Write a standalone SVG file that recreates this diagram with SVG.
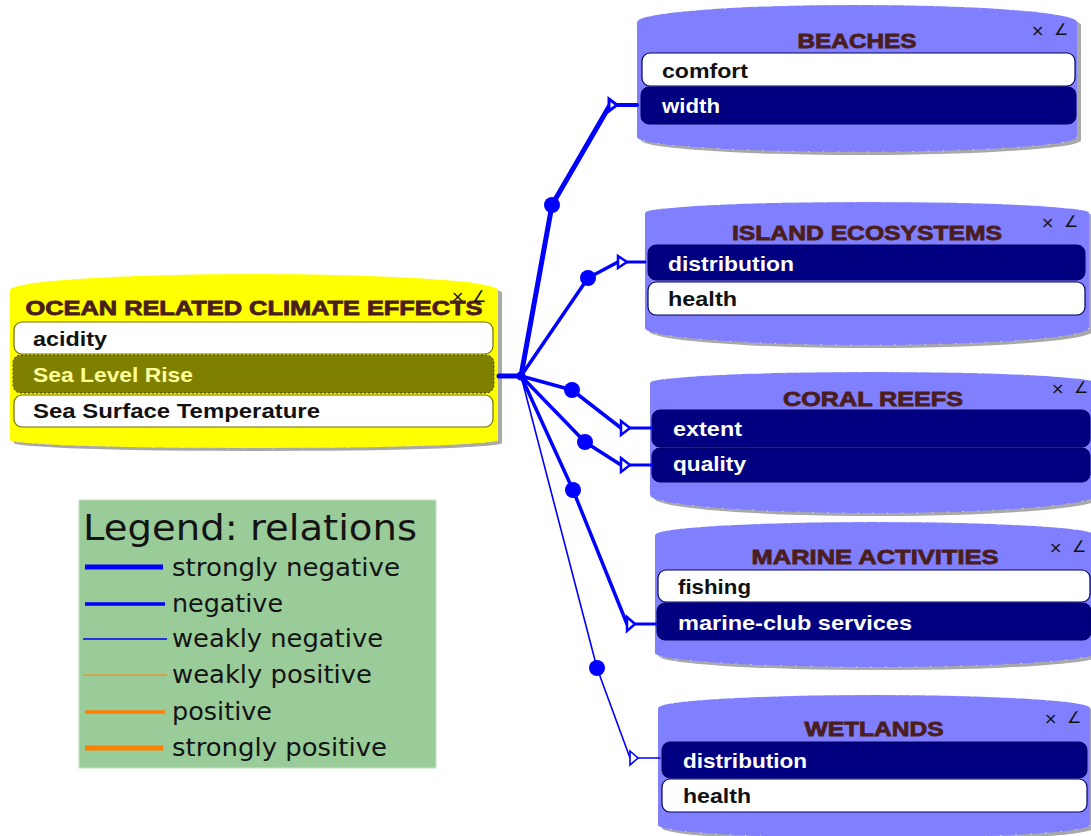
<svg xmlns="http://www.w3.org/2000/svg" width="1091" height="836" viewBox="0 0 1091 836">
<style>
.shadow{fill:#a8a8a8}
.blue{fill:#8080ff}
.yel{fill:#ffff00}
.edge{fill:none;stroke:#ffffff;stroke-width:1;stroke-dasharray:1 14}
.title{font-family:"Liberation Sans",Arial,sans-serif;font-weight:bold;font-size:20px;fill:#4b1e1e;stroke:#4b1e1e;stroke-width:0.8;text-anchor:middle}
.fw{fill:#ffffff;stroke:#000060;stroke-width:1.2}
.fn{fill:#000080;stroke:#000060;stroke-width:1}
.ft{font-family:"Liberation Sans",Arial,sans-serif;font-weight:bold;font-size:21px}
.tw{fill:#111111}
.tn{fill:#ffffff}
.ic{font-family:"DejaVu Sans",sans-serif;font-size:16px;fill:#111111}
.con{fill:none;stroke:#0000ff;stroke-linejoin:round;stroke-linecap:round}
.dot{fill:#0000ff}
.arr{fill:#ffffff;stroke:#0000ff;stroke-linejoin:miter}
.lg{font-family:"DejaVu Sans",Verdana,sans-serif;fill:#141414}
</style>

<g id="node-ocean">
  <path class="shadow" transform="translate(4,3)" d="M10,290 A244,16 0 0 1 498,290 L498,440 A244,8 0 0 1 10,440 Z"/>
  <path class="yel" d="M10,290 A244,16 0 0 1 498,290 L498,440 A244,8 0 0 1 10,440 Z"/>
  <path class="edge" d="M10,290 A244,16 0 0 1 498,290 M498,440 A244,8 0 0 1 10,440"/>
  <text class="title" x="254" y="315" font-size="21" textLength="457" lengthAdjust="spacingAndGlyphs">OCEAN RELATED CLIMATE EFFECTS</text>
  <text class="ic" x="451" y="302">×</text>
  <text class="ic" x="472" y="302">∠</text>
  <rect x="14" y="322" width="479" height="32" rx="8" fill="#ffffff" stroke="#707000" stroke-width="1.2"/>
  <text class="ft tw" x="33" y="346" textLength="74" lengthAdjust="spacingAndGlyphs">acidity</text>
  <rect x="13" y="355" width="481" height="38" rx="8" fill="#808000" stroke="#404000" stroke-width="1" stroke-dasharray="2 2"/>
  <text class="ft" fill="#ffff99" x="33" y="382" textLength="160" lengthAdjust="spacingAndGlyphs">Sea Level Rise</text>
  <rect x="14" y="395" width="479" height="32" rx="8" fill="#ffffff" stroke="#707000" stroke-width="1.2"/>
  <text class="ft tw" x="33" y="418" textLength="287" lengthAdjust="spacingAndGlyphs">Sea Surface Temperature</text>
</g>

<g id="node-beaches">
  <path class="shadow" transform="translate(4,3)" d="M637,22 A220,17 0 0 1 1077,22 L1077,137 A220,15 0 0 1 637,137 Z"/>
  <path class="blue" d="M637,22 A220,17 0 0 1 1077,22 L1077,137 A220,15 0 0 1 637,137 Z"/>
  <path class="edge" d="M637,22 A220,17 0 0 1 1077,22 M1077,137 A220,15 0 0 1 637,137"/>
  <text class="title" x="857" y="48" textLength="119" lengthAdjust="spacingAndGlyphs">BEACHES</text>
  <text class="ic" x="1031" y="36">×</text>
  <text class="ic" x="1054" y="35">∠</text>
  <rect class="fw" x="642" y="53" width="433" height="33" rx="8"/>
  <text class="ft tw" x="662" y="78" textLength="86" lengthAdjust="spacingAndGlyphs">comfort</text>
  <rect class="fn" x="641" y="87" width="435" height="37" rx="8"/>
  <text class="ft tn" x="662" y="113" textLength="58" lengthAdjust="spacingAndGlyphs">width</text>
</g>

<g id="node-island">
  <path class="shadow" transform="translate(4,3)" d="M645,213 A222,11 0 0 1 1089,213 L1089,328 A222,17 0 0 1 645,328 Z"/>
  <path class="blue" d="M645,213 A222,11 0 0 1 1089,213 L1089,328 A222,17 0 0 1 645,328 Z"/>
  <path class="edge" d="M645,213 A222,11 0 0 1 1089,213 M1089,328 A222,17 0 0 1 645,328"/>
  <text class="title" x="867" y="240" textLength="270" lengthAdjust="spacingAndGlyphs">ISLAND ECOSYSTEMS</text>
  <text class="ic" x="1041" y="228">×</text>
  <text class="ic" x="1064" y="227">∠</text>
  <rect class="fn" x="648" y="245" width="437" height="35" rx="8"/>
  <text class="ft tn" x="668" y="271" textLength="126" lengthAdjust="spacingAndGlyphs">distribution</text>
  <rect class="fw" x="648" y="282" width="437" height="33" rx="8"/>
  <text class="ft tw" x="668" y="306" textLength="69" lengthAdjust="spacingAndGlyphs">health</text>
</g>

<g id="node-coral">
  <path class="shadow" transform="translate(4,3)" d="M650,383 A223,11 0 0 1 1096,383 L1096,495 A223,18 0 0 1 650,495 Z"/>
  <path class="blue" d="M650,383 A223,11 0 0 1 1096,383 L1096,495 A223,18 0 0 1 650,495 Z"/>
  <path class="edge" d="M650,383 A223,11 0 0 1 1096,383 M1096,495 A223,18 0 0 1 650,495"/>
  <text class="title" x="873" y="406" textLength="180" lengthAdjust="spacingAndGlyphs">CORAL REEFS</text>
  <text class="ic" x="1051" y="394">×</text>
  <text class="ic" x="1074" y="393">∠</text>
  <rect class="fn" x="652" y="410" width="438" height="37" rx="8"/>
  <text class="ft tn" x="673" y="436" textLength="69" lengthAdjust="spacingAndGlyphs">extent</text>
  <rect class="fn" x="652" y="448" width="438" height="34" rx="8"/>
  <text class="ft tn" x="673" y="471" textLength="73" lengthAdjust="spacingAndGlyphs">quality</text>
</g>

<g id="node-marine">
  <path class="shadow" transform="translate(4,3)" d="M655,535 A220,13 0 0 1 1095,535 L1095,653 A220,14 0 0 1 655,653 Z"/>
  <path class="blue" d="M655,535 A220,13 0 0 1 1095,535 L1095,653 A220,14 0 0 1 655,653 Z"/>
  <path class="edge" d="M655,535 A220,13 0 0 1 1095,535 M1095,653 A220,14 0 0 1 655,653"/>
  <text class="title" x="875" y="564" textLength="247" lengthAdjust="spacingAndGlyphs">MARINE ACTIVITIES</text>
  <text class="ic" x="1049" y="553">×</text>
  <text class="ic" x="1072" y="552">∠</text>
  <rect class="fw" x="658" y="570" width="432" height="32" rx="8"/>
  <text class="ft tw" x="678" y="594" textLength="73" lengthAdjust="spacingAndGlyphs">fishing</text>
  <rect class="fn" x="657" y="603" width="434" height="37" rx="8"/>
  <text class="ft tn" x="678" y="630" textLength="234" lengthAdjust="spacingAndGlyphs">marine-club services</text>
</g>

<g id="node-wetlands">
  <path class="shadow" transform="translate(4,3)" d="M658,708 A216,13 0 0 1 1090,708 L1090,825 A216,13 0 0 1 658,825 Z"/>
  <path class="blue" d="M658,708 A216,13 0 0 1 1090,708 L1090,825 A216,13 0 0 1 658,825 Z"/>
  <path class="edge" d="M658,708 A216,13 0 0 1 1090,708 M1090,825 A216,13 0 0 1 658,825"/>
  <text class="title" x="874" y="736" textLength="139" lengthAdjust="spacingAndGlyphs">WETLANDS</text>
  <text class="ic" x="1044" y="724">×</text>
  <text class="ic" x="1067" y="723">∠</text>
  <rect class="fn" x="662" y="742" width="425" height="36" rx="8"/>
  <text class="ft tn" x="683" y="768" textLength="124" lengthAdjust="spacingAndGlyphs">distribution</text>
  <rect class="fw" x="662" y="779" width="425" height="33" rx="8"/>
  <text class="ft tw" x="683" y="803" textLength="68" lengthAdjust="spacingAndGlyphs">health</text>
</g>

<g id="connectors">
  <path class="con" stroke-width="5" d="M499,376 L521,376"/>
  <circle class="dot" cx="521" cy="376" r="4.5"/>
  <!-- to beaches width: strongly negative -->
  <path class="con" stroke-width="5" d="M521,376 L552,205 L610,105"/>
  <path class="con" stroke-width="4" d="M617,105 L637,105"/>
  <polygon class="arr" stroke-width="3" points="609,99 617,105 609,111"/>
  <circle class="dot" cx="552" cy="205" r="8"/>
  <!-- to island distribution -->
  <path class="con" stroke-width="3.5" d="M521,376 L588,278 L618,262"/>
  <path class="con" stroke-width="3" d="M627,262 L645,262"/>
  <polygon class="arr" stroke-width="2.5" points="618,256 627,262 618,268"/>
  <circle class="dot" cx="588" cy="278" r="8"/>
  <!-- to coral extent -->
  <path class="con" stroke-width="3.5" d="M521,376 L572,390 L621,428"/>
  <path class="con" stroke-width="3" d="M630,428 L652,428"/>
  <polygon class="arr" stroke-width="2.5" points="621,421 630,428 621,435"/>
  <circle class="dot" cx="572" cy="390" r="8"/>
  <!-- to coral quality -->
  <path class="con" stroke-width="3.5" d="M521,376 L585,442 L621,465"/>
  <path class="con" stroke-width="3" d="M630,465 L652,465"/>
  <polygon class="arr" stroke-width="2.5" points="621,458 630,465 621,472"/>
  <circle class="dot" cx="585" cy="442" r="8"/>
  <!-- to marine-club services -->
  <path class="con" stroke-width="3.5" d="M521,376 L573,490 L627,624"/>
  <path class="con" stroke-width="3" d="M635,624 L656,624"/>
  <polygon class="arr" stroke-width="2.5" points="627,617 635,624 627,631"/>
  <circle class="dot" cx="573" cy="490" r="8"/>
  <!-- to wetlands distribution: weakly negative -->
  <path class="con" stroke-width="1.6" d="M521,376 L597,668 L630,758"/>
  <path class="con" stroke-width="1.6" d="M638,758 L660,758"/>
  <polygon class="arr" stroke-width="1.6" points="630,751 638,758 630,765"/>
  <circle class="dot" cx="597" cy="668" r="8"/>
</g>

<g id="legend">
  <rect x="79" y="500" width="357" height="268" fill="#99cc99" stroke="#c4e0c4" stroke-width="1"/>
  <text class="lg" x="83" y="540" font-size="36" textLength="334" lengthAdjust="spacingAndGlyphs">Legend: relations</text>
  <line x1="85" y1="567" x2="163" y2="567" stroke="#0000ff" stroke-width="5"/>
  <text class="lg" x="172" y="576" font-size="24" textLength="228" lengthAdjust="spacingAndGlyphs">strongly negative</text>
  <line x1="85" y1="604" x2="165" y2="604" stroke="#0000ff" stroke-width="3.5"/>
  <text class="lg" x="172" y="612" font-size="24" textLength="111" lengthAdjust="spacingAndGlyphs">negative</text>
  <line x1="83" y1="639" x2="167" y2="639" stroke="#0000ff" stroke-width="1.6"/>
  <text class="lg" x="172" y="647" font-size="24" textLength="211" lengthAdjust="spacingAndGlyphs">weakly negative</text>
  <line x1="83" y1="675" x2="167" y2="675" stroke="#ff8000" stroke-width="1.2"/>
  <text class="lg" x="172" y="683" font-size="24" textLength="200" lengthAdjust="spacingAndGlyphs">weakly positive</text>
  <line x1="85" y1="712" x2="165" y2="712" stroke="#ff8000" stroke-width="3.5"/>
  <text class="lg" x="172" y="720" font-size="24" textLength="100" lengthAdjust="spacingAndGlyphs">positive</text>
  <line x1="85" y1="748" x2="163" y2="748" stroke="#ff8000" stroke-width="5"/>
  <text class="lg" x="172" y="756" font-size="24" textLength="215" lengthAdjust="spacingAndGlyphs">strongly positive</text>
</g>
</svg>
